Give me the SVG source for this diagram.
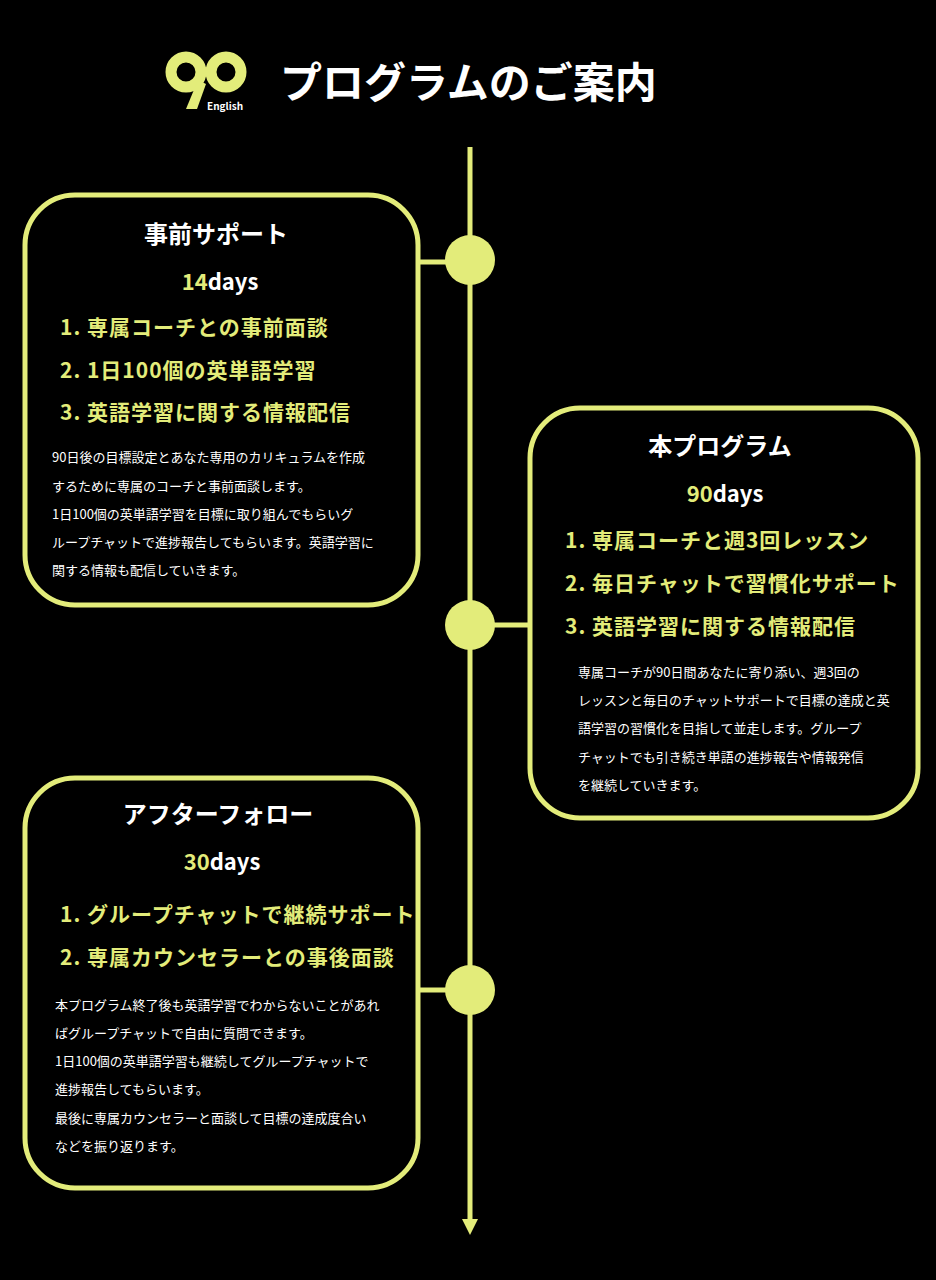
<svg xmlns="http://www.w3.org/2000/svg" width="936" height="1280" viewBox="0 0 936 1280">
<style>
text{font-family:"Noto Sans CJK JP","Noto Sans",sans-serif}
.box{fill:#000;stroke:#e3ec7a;stroke-width:5}
.ln{stroke:#e3ec7a;stroke-width:5;fill:none}
.dot{fill:#e3ec7a}
.t{fill:#fff;font-size:24px;font-weight:700;text-anchor:middle}
.d{font-size:22px;font-weight:700;text-anchor:middle;fill:#fff}
.y{fill:#e3ec7a}
.i{fill:#e3ec7a;font-size:21px;font-weight:700;letter-spacing:1px}
.b{fill:#fff;font-size:13px}
</style>
<rect width="936" height="1280" fill="#000"/>
<g id="logo">
<circle cx="186" cy="72" r="15" fill="none" stroke="#e3ec7a" stroke-width="11"/>
<circle cx="226" cy="72" r="15" fill="none" stroke="#e3ec7a" stroke-width="11"/>
<path d="M198 80 L186 109 L197 109 L206 84 Z" fill="#e3ec7a"/>
<text x="207" y="110" fill="#fff" font-size="10" font-weight="700">English</text>
<text x="280" y="98" fill="#fff" font-size="42" font-weight="700">プログラムのご案内</text>
</g>
<g id="connectors">
<line class="ln" x1="470" y1="147" x2="470" y2="1222"/>
<path d="M462 1219 L478 1219 L470 1235 Z" fill="#e3ec7a"/>
<line class="ln" x1="418" y1="262" x2="470" y2="262"/>
<line class="ln" x1="470" y1="625" x2="530" y2="625"/>
<line class="ln" x1="418" y1="990" x2="470" y2="990"/>
<circle class="dot" cx="470" cy="260" r="25"/>
<circle class="dot" cx="470" cy="625" r="25"/>
<circle class="dot" cx="470" cy="990" r="25"/>
</g>
<g id="pre">
<rect class="box" x="25" y="195" width="393" height="410" rx="50"/>
<text class="t" x="216" y="243">事前サポート</text>
<text class="d" x="220" y="290"><tspan class="y">14</tspan>days</text>
<text class="i" x="60" y="335">1. 専属コーチとの事前面談</text>
<text class="i" x="60" y="378">2. 1日100個の英単語学習</text>
<text class="i" x="60" y="420">3. 英語学習に関する情報配信</text>
<text class="b" x="52" y="462">90日後の目標設定とあなた専用のカリキュラムを作成</text>
<text class="b" x="52" y="491">するために専属のコーチと事前面談します。</text>
<text class="b" x="52" y="519">1日100個の英単語学習を目標に取り組んでもらいグ</text>
<text class="b" x="52" y="547">ループチャットで進捗報告してもらいます。英語学習に</text>
<text class="b" x="52" y="575">関する情報も配信していきます。</text>
</g>
<g id="main">
<rect class="box" x="530" y="408" width="388" height="410" rx="50"/>
<text class="t" x="720" y="455">本プログラム</text>
<text class="d" x="725" y="502"><tspan class="y">90</tspan>days</text>
<text class="i" x="565" y="548">1. 専属コーチと週3回レッスン</text>
<text class="i" x="565" y="591">2. 毎日チャットで習慣化サポート</text>
<text class="i" x="565" y="634">3. 英語学習に関する情報配信</text>
<text class="b" x="578" y="677">専属コーチが90日間あなたに寄り添い、週3回の</text>
<text class="b" x="578" y="705">レッスンと毎日のチャットサポートで目標の達成と英</text>
<text class="b" x="578" y="733">語学習の習慣化を目指して並走します。グループ</text>
<text class="b" x="578" y="762">チャットでも引き続き単語の進捗報告や情報発信</text>
<text class="b" x="578" y="790">を継続していきます。</text>
</g>
<g id="after">
<rect class="box" x="25" y="778" width="393" height="410" rx="50"/>
<text class="t" x="218" y="823">アフターフォロー</text>
<text class="d" x="222" y="870"><tspan class="y">30</tspan>days</text>
<text class="i" x="60" y="922">1. グループチャットで継続サポート</text>
<text class="i" x="60" y="965">2. 専属カウンセラーとの事後面談</text>
<text class="b" x="55" y="1010">本プログラム終了後も英語学習でわからないことがあれ</text>
<text class="b" x="55" y="1038">ばグループチャットで自由に質問できます。</text>
<text class="b" x="55" y="1066">1日100個の英単語学習も継続してグループチャットで</text>
<text class="b" x="55" y="1094">進捗報告してもらいます。</text>
<text class="b" x="55" y="1123">最後に専属カウンセラーと面談して目標の達成度合い</text>
<text class="b" x="55" y="1151">などを振り返ります。</text>
</g>
</svg>
